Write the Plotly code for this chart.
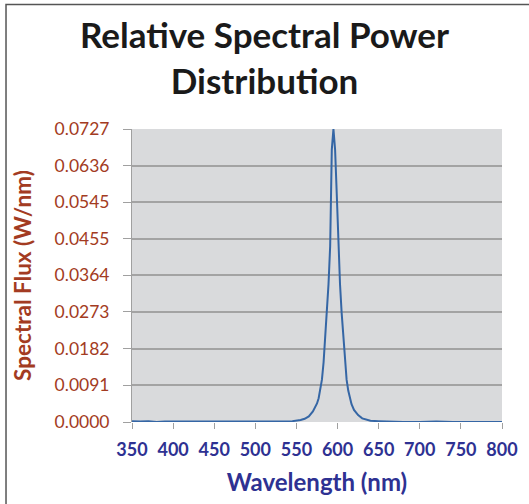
import plotly.graph_objects as go

wavelength = [350, 360, 370, 380, 390, 400, 420, 440, 460, 480, 500, 520, 530, 540,
              545, 550, 555, 560, 565, 570, 573, 575, 577, 579, 581, 583, 585, 587,
              589, 591, 593, 595, 597, 599, 601, 603, 605, 607, 609, 611, 613, 615,
              617, 620, 625, 630, 635, 640, 650, 660, 680, 700, 720, 740, 760, 780, 800]
flux = [0.0002, 0.0001, 0.0002, 0.0000, 0.0001, 0.0001, 0.0001, 0.0000, 0.0000, 0.0000,
        0.0000, 0.0000, 0.0001, 0.0001,
        0.0002, 0.0003, 0.0005, 0.0008, 0.0014, 0.0026, 0.0036, 0.0046, 0.0059, 0.0078,
        0.0105, 0.0148, 0.0206, 0.0270, 0.0342, 0.0436, 0.0676, 0.0727, 0.0676, 0.0567,
        0.0436, 0.0342, 0.0270, 0.0206, 0.0148, 0.0105, 0.0078, 0.0058, 0.0044,
        0.0030, 0.0017, 0.0009, 0.0005, 0.0003, 0.0002, 0.0001, 0.0000, 0.0000, 0.0001,
        0.0000, 0.0000, 0.0000, 0.0000]

y_ticks = [0.0, 0.0091, 0.0182, 0.0273, 0.0364, 0.0455, 0.0545, 0.0636, 0.0727]
y_tick_labels = ["0.0000", "0.0091", "0.0182", "0.0273", "0.0364", "0.0455", "0.0545", "0.0636", "0.0727"]
x_ticks = [350, 400, 450, 500, 550, 600, 650, 700, 750, 800]

BROWN = "#A33B22"
BLUE = "#2E3192"

fig = go.Figure()
fig.add_trace(go.Scatter(x=wavelength, y=flux, mode="lines",
                         line=dict(color="#3566A5", width=2), showlegend=False))

fig.update_layout(
    width=529, height=504,
    margin=dict(l=132, r=27, t=129, b=82, autoexpand=False),
    paper_bgcolor="white",
    plot_bgcolor="#D9DADC",
    title=dict(text="<b>Relative Spectral Power<br>Distribution</b>",
               x=0.5, xref="container", xanchor="center",
               y=1 - 48 / 504, yref="container", yanchor="middle",
               font=dict(family="Lato", size=35, color="#1a1a1a")),
    xaxis=dict(range=[350, 800], tickvals=x_ticks, showgrid=False, zeroline=False,
               automargin=False,
               ticks="outside", ticklen=6, tickcolor="#A0A0A0", tickwidth=1,
               ticklabelstandoff=5,
               showline=False,
               tickfont=dict(family="Lato", size=18, color=BLUE, weight="bold"),
               title=dict(text="<b>Wavelength (nm)</b>", standoff=15,
                          font=dict(family="Lato", size=24, color=BLUE))),
    yaxis=dict(range=[0, 0.0727], tickvals=y_ticks, ticktext=y_tick_labels,
               showgrid=True, gridcolor="#A3A3A3", gridwidth=1.5, zeroline=False,
               automargin=False,
               ticks="outside", ticklen=8, tickcolor="#A0A0A0", tickwidth=1,
               ticklabelstandoff=10,
               showline=True, linecolor="#A0A0A0", linewidth=1,
               tickfont=dict(family="Lato", size=17.5, color=BROWN),
               title=dict(text="<b>Spectral Flux (W/nm)</b>", standoff=16,
                          font=dict(family="Lato", size=22.5, color=BROWN))),
    shapes=[
        dict(type="rect", xref="paper", yref="paper", layer="above",
             x0=-0.3405, x1=1.12, y0=-0.32, y1=1.4253,
             line=dict(color="#555555", width=1.5), fillcolor="rgba(0,0,0,0)"),
    ],
)

fig.write_html("out.html", config={"displayModeBar": False},
               post_script="document.body.style.margin='0';")
